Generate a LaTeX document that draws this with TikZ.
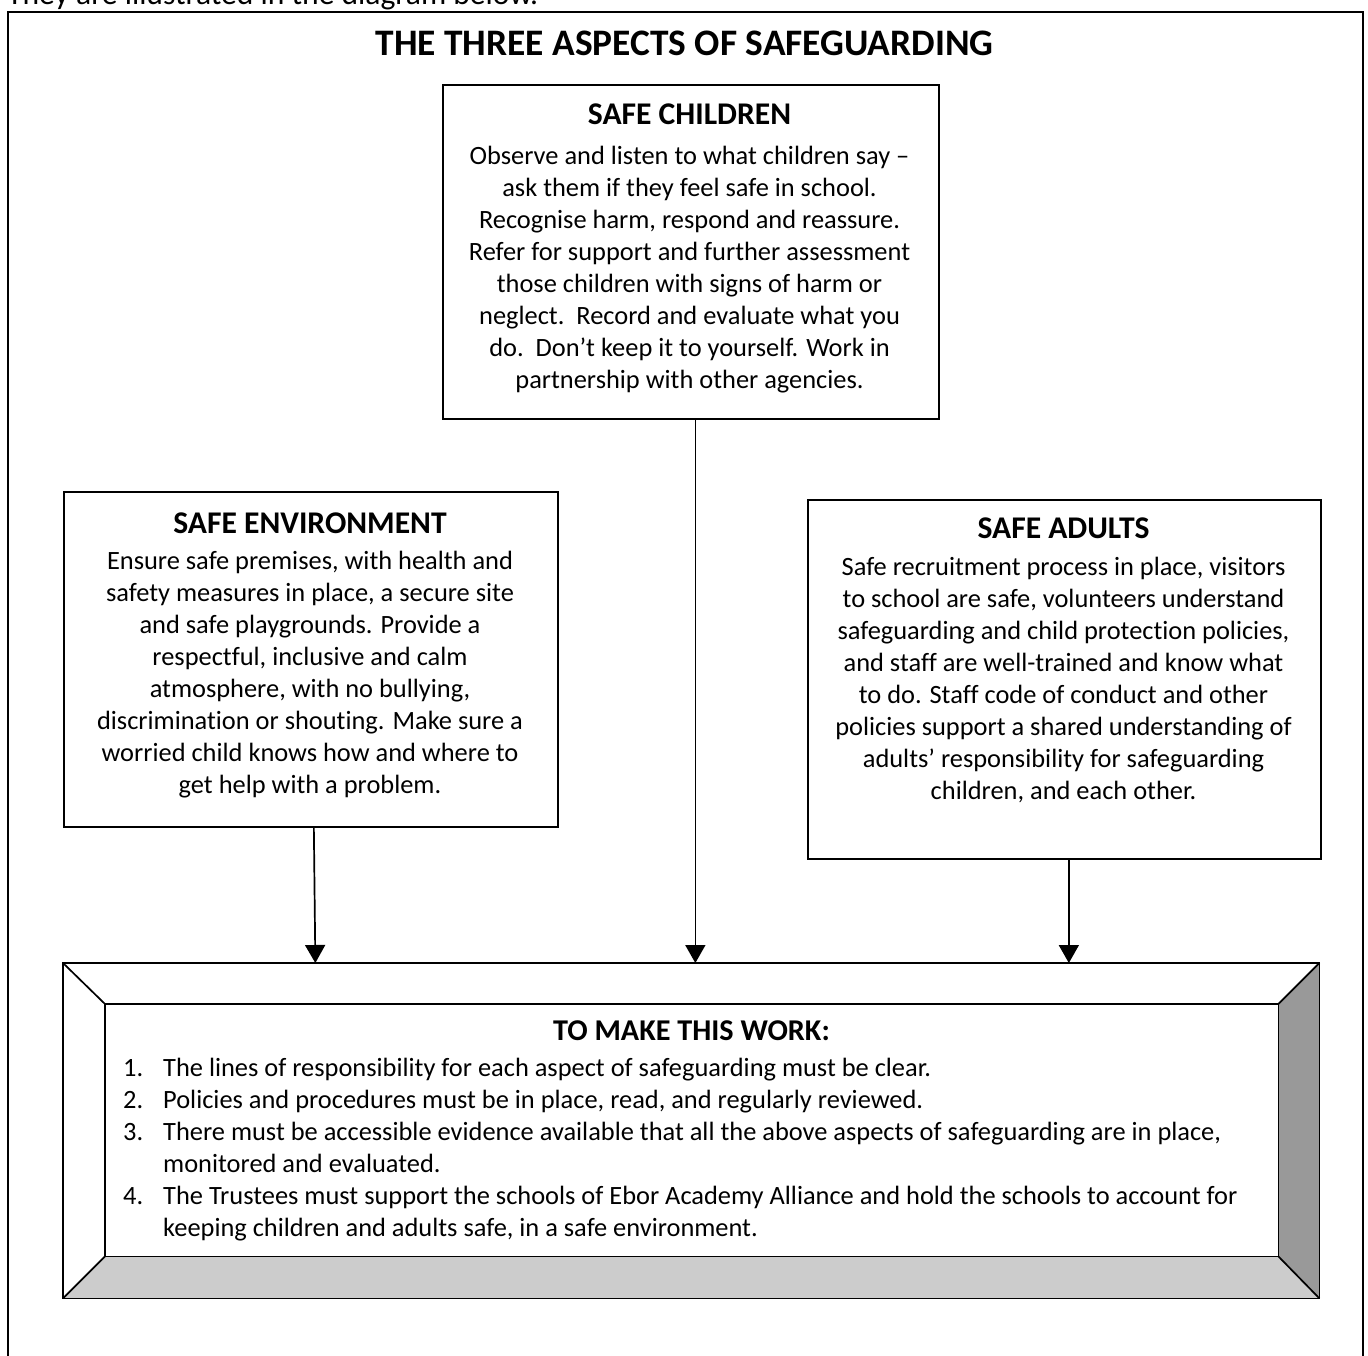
\documentclass[tikz,border=0pt]{standalone}
\usepackage{fontspec}
\setmainfont{Carlito}[Ligatures=NoCommon]
\usetikzlibrary{arrows.meta}
\definecolor{darkface}{HTML}{999999}
\definecolor{lightface}{HTML}{CCCCCC}
\newcommand{\bodyfont}{\fontsize{26.4}{32.1}\selectfont}
\begin{document}
\begin{tikzpicture}[x=1pt,y=-1pt,
  box/.style={draw, line width=1.7pt, inner sep=0pt, anchor=north west},
  ttl/.style={font=\fontsize{31.6}{38}\selectfont\bfseries, anchor=base, inner sep=0pt},
  body/.style={font=\bodyfont, anchor=north, inner sep=0pt},
  arr/.style={line width=1.7pt, -{Triangle[width=20pt,length=18pt]}},
  edge/.style={line width=1.7pt}]
\useasboundingbox (0,0) rectangle (1368,1356);
\clip (0,0) rectangle (1368,1356);

% intro line (cut by the page edge, as in the reference)
\node[anchor=base west, inner sep=0pt, font=\fontsize{31.6}{38}\selectfont] (intro) at (7,5) {They are illustrated in the diagram below.};

% outer frame
\node[box, minimum width=1355, minimum height=1400] (frame) at (7,11) {};

% main title
\node[font=\fontsize{37.4}{44}\selectfont\bfseries, anchor=base, inner sep=0pt] (title) at (684.5,56) {THE THREE ASPECTS OF SAFEGUARDING};

% safe children
\node[box, minimum width=496, minimum height=334] (children) at (442,84) {};
\node[ttl] (childrenttl) at (689.5,125) {SAFE CHILDREN};
\node[body] (childrentxt) at (689.5,141.5) {\begin{tabular}{@{}c@{}}
Observe and listen to what children say –\\
ask them if they feel safe in school.\\
Recognise harm, respond and reassure.\\
Refer for support and further assessment\\
those children with signs of harm or\\
neglect.\ \ Record and evaluate what you\\
do.\ \ Don’t keep it to yourself. Work in\\
partnership with other agencies.
\end{tabular}};

% safe environment
\node[box, minimum width=494, minimum height=335] (env) at (63,491) {};
\node[ttl] (envttl) at (310,533) {SAFE ENVIRONMENT};
\node[body] (envtxt) at (310,546.5) {\begin{tabular}{@{}c@{}}
Ensure safe premises, with health and\\
safety measures in place, a secure site\\
and safe playgrounds. Provide a\\
respectful, inclusive and calm\\
atmosphere, with no bullying,\\
discrimination or shouting. Make sure a\\
worried child knows how and where to\\
get help with a problem.
\end{tabular}};

% safe adults
\node[box, minimum width=513, minimum height=359] (adults) at (807,499) {};
\node[ttl] (adultsttl) at (1063.5,538) {SAFE ADULTS};
\node[body] (adultstxt) at (1063.5,552.5) {\begin{tabular}{@{}c@{}}
Safe recruitment process in place, visitors\\
to school are safe, volunteers understand\\
safeguarding and child protection policies,\\
and staff are well-trained and know what\\
to do. Staff code of conduct and other\\
policies support a shared understanding of\\
adults’ responsibility for safeguarding\\
children, and each other.
\end{tabular}};

% bevelled box
\node[inner sep=0pt, minimum width=1256, minimum height=335, anchor=north west] (bevel) at (63,963) {};
\node[inner sep=0pt, minimum width=1173, minimum height=252, anchor=north west] (inner) at (105,1004) {};
\fill[lightface] (bevel.south west) -- (bevel.south east) -- (inner.south east) -- (inner.south west) -- cycle;
\fill[darkface] (bevel.north east) -- (bevel.south east) -- (inner.south east) -- (inner.north east) -- cycle;
\draw[edge] (bevel.north west) rectangle (bevel.south east);
\draw[edge] (inner.north west) rectangle (inner.south east);
\draw[edge] (bevel.north west) -- (inner.north west);
\draw[edge] (bevel.north east) -- (inner.north east);
\draw[edge] (bevel.south west) -- (inner.south west);
\draw[edge] (bevel.south east) -- (inner.south east);

% arrows
\draw[arr] ([xshift=3pt]env.south) -- ([xshift=4.5pt]env.south |- bevel.north);
\draw[arr] ([xshift=4.5pt]children.south) -- ([xshift=4.5pt]children.south |- bevel.north);
\draw[arr] ([xshift=4.5pt]adults.south) -- ([xshift=4.5pt]adults.south |- bevel.north);

% work list
\node[font=\fontsize{30.2}{36}\selectfont\bfseries, anchor=base, inner sep=0pt] (workttl) at (691.5,1040) {TO MAKE THIS WORK:};
\node[font=\bodyfont, anchor=north west, inner sep=0pt] (worklist) at (123,1053.5) {\begin{tabular}{@{}p{40pt}@{}l@{}}
1. & The lines of responsibility for each aspect of safeguarding must be clear.\\
2. & Policies and procedures must be in place, read, and regularly reviewed.\\
3. & There must be accessible evidence available that all the above aspects of safeguarding are in place,\\
   & monitored and evaluated.\\
4. & The Trustees must support the schools of Ebor Academy Alliance and hold the schools to account for\\
   & keeping children and adults safe, in a safe environment.
\end{tabular}};
\end{tikzpicture}
\end{document}
